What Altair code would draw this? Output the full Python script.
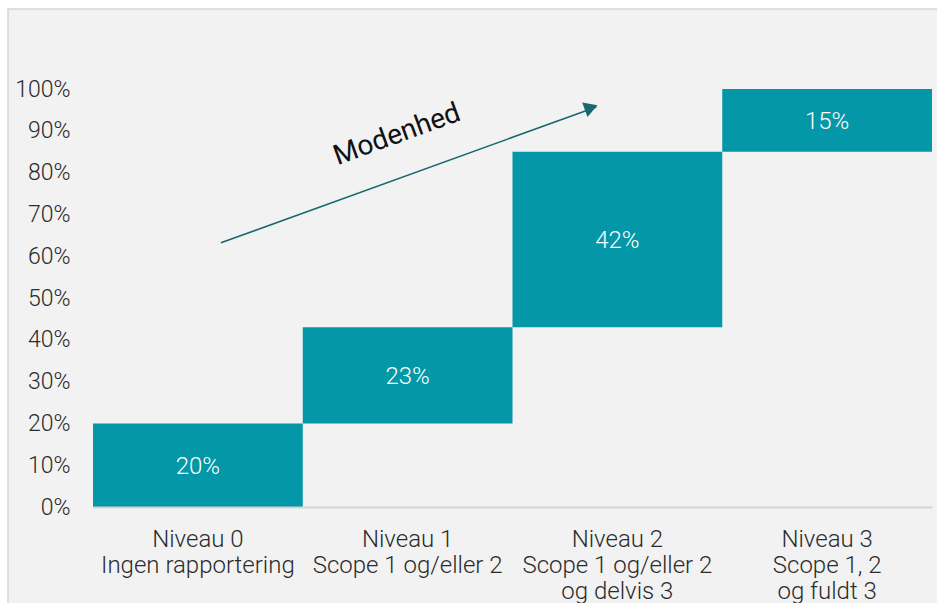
import altair as alt
import pandas as pd

categories = ["Niveau 0|Ingen rapportering", "Niveau 1|Scope 1 og/eller 2",
              "Niveau 2|Scope 1 og/eller 2|og delvis 3", "Niveau 3|Scope 1, 2|og fuldt 3"]
shares = [20, 23, 42, 15]
value_labels = ["20%", "23%", "42%", "15%"]

starts, ends, acc = [], [], 0
for v in shares:
    starts.append(acc)
    acc += v
    ends.append(acc)

df = pd.DataFrame({"cat": categories, "start": starts, "end": ends,
                   "mid": [(s + e) / 2 for s, e in zip(starts, ends)],
                   "label": value_labels})

# annotation arrow in data units (x: category index units, y: percent)
arrow_x = [0.61, 2.40]
arrow_y = [63.2, 95.7]
arrow_df = pd.DataFrame({"x": arrow_x, "y": arrow_y})
head_df = pd.DataFrame({"x": [arrow_x[1] - 0.035], "y": [arrow_y[1] - 0.3]})
text_df = pd.DataFrame({"x": [1.45], "y": [89.0], "t": ["Modenhed"]})

FONT = "Roboto"
BAR = "#0397A7"
ARROW = "#17686F"
LABEL = "#2b2b2b"

yscale = alt.Scale(domain=[0, 100], nice=False)
xband = alt.Scale(paddingInner=0, paddingOuter=0)

frame = alt.Chart(pd.DataFrame({"f": [0]})).mark_rect(
    fill="#f2f2f2", stroke="#d6d6d6", strokeWidth=1.5).encode(
    x=alt.value(-85), x2=alt.value(860), y=alt.value(-80), y2=alt.value(540))

bars = alt.Chart(df).mark_bar(color=BAR, stroke=None).encode(
    x=alt.X("cat:N", sort=categories, scale=xband, title=None,
            axis=alt.Axis(labelExpr="split(datum.label, '|')", labelAngle=0,
                          labelFont=FONT, labelFontSize=24, labelFontWeight=300,
                          labelColor=LABEL, labelPadding=20, labelLineHeight=26,
                          ticks=False, domain=True, domainColor="#d4d4d4", domainWidth=2,
                          labelLimit=300, zindex=1)),
    y=alt.Y("start:Q", scale=yscale, title=None,
            axis=alt.Axis(values=list(range(0, 101, 10)), labelExpr="datum.value + '%'",
                          labelFont=FONT, labelFontSize=23, labelFontWeight=300,
                          labelColor=LABEL, labelPadding=23, ticks=False,
                          domain=False, grid=False, zindex=1)),
    y2="end:Q",
)

labels = alt.Chart(df).mark_text(color="white", font=FONT, fontSize=24,
                                 fontWeight=300, baseline="middle", dy=2).encode(
    x=alt.X("cat:N", sort=categories, scale=xband, axis=None),
    y=alt.Y("mid:Q", scale=yscale),
    text="label:N",
)

xq = alt.Scale(domain=[0, 4], nice=False, zero=False)
line = alt.Chart(arrow_df).mark_line(color=ARROW, strokeWidth=1.6).encode(
    x=alt.X("x:Q", scale=xq, axis=None),
    y=alt.Y("y:Q", scale=yscale),
)
head = alt.Chart(head_df).mark_point(shape="triangle", filled=True, color=ARROW,
                                     size=240, angle=70, opacity=1).encode(
    x=alt.X("x:Q", scale=xq, axis=None),
    y=alt.Y("y:Q", scale=yscale),
)
txt = alt.Chart(text_df).mark_text(font=FONT, fontSize=28, fontWeight=400,
                                   color="#111111", angle=340).encode(
    x=alt.X("x:Q", scale=xq, axis=None),
    y=alt.Y("y:Q", scale=yscale),
    text="t:N",
)

chart = alt.layer(frame, bars, labels, line, head, txt).resolve_scale(x="independent").properties(
    width=839, height=418,
    autosize=alt.AutoSizeParams(type="none"),
    padding={"left": 93, "top": 89, "right": 5, "bottom": 96},
    background="white",
).configure_view(stroke=None)

chart.save("out.html", embed_options={"renderer": "svg", "actions": False})
